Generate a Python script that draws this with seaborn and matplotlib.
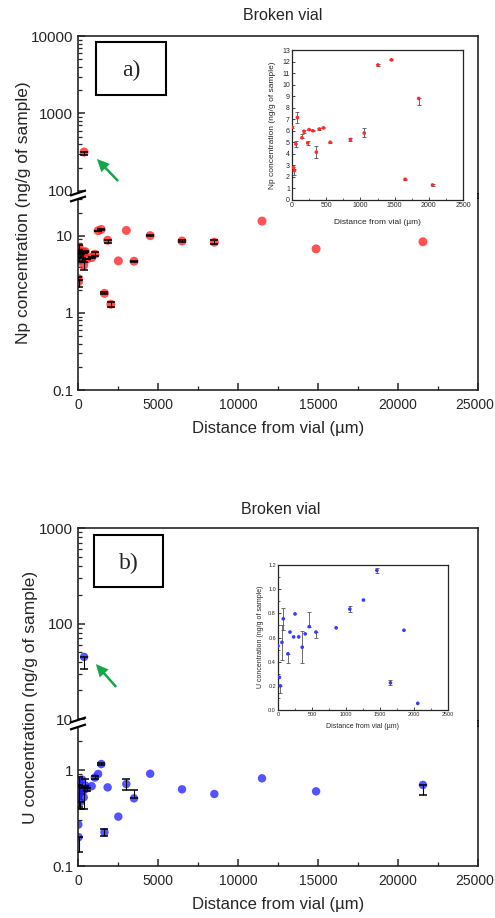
import numpy as np
import pandas as pd
import matplotlib
matplotlib.use("Agg")
import matplotlib.pyplot as plt
import matplotlib.transforms as mtransforms
import seaborn as sns
from matplotlib.lines import Line2D
from matplotlib.patches import Rectangle, FancyArrowPatch
from matplotlib.ticker import FixedLocator, LogLocator, MultipleLocator, FuncFormatter, NullFormatter

# ---------------- data ----------------
# distances (um) of the near-vial samples (shown in both main plots and insets)
distance_near = [0, 20, 35, 58, 78, 146, 176, 230, 250, 305, 356, 400, 460, 558,
                 855, 1056, 1256, 1454, 1654, 1852, 2055]
# distances (um) of the additional samples shown only in the main plots
distance_far = [380, 2520, 3020, 3500, 4510, 6500, 8520, 11500, 14880, 21560]

# Np concentration (ng/g of sample)
np_near = [6.3, 2.8, 2.55, 4.85, 7.15, 5.4, 5.95, 4.95, 6.1, 6.0, 4.15, 6.15, 6.25, 5.0,
           5.25, 5.8, 11.7, 12.15, 1.8, 8.8, 1.3]
np_near_lo = [0.1, 0.1, 0.4, 0.25, 0.5, 0.0, 0.1, 0.15, 0.05, 0.05, 0.55, 0.05, 0.05, 0.05,
              0.1, 0.3, 0.05, 0.05, 0.05, 0.6, 0.1]
np_near_hi = [0.1, 0.1, 0.1, 0.25, 0.5, 0.3, 0.1, 0.15, 0.05, 0.05, 0.5, 0.05, 0.05, 0.05,
              0.1, 0.4, 0.05, 0.05, 0.05, 0.0, 0.1]
np_far = [318, 4.75, 11.8, 4.7, 10.1, 8.6, 8.3, 15.6, 6.8, 8.4]
np_far_lo = [30, 0, 0, 0.1, 0.15, 0.15, 0.5, 0, 0, 0]
np_far_hi = [0, 0, 0, 0.1, 0.15, 0.15, 0.5, 0, 0, 0]

# U concentration (ng/g of sample)
u_near = [0.53, 0.27, 0.20, 0.56, 0.755, 0.465, 0.645, 0.605, 0.795, 0.605, 0.52, 0.63, 0.69, 0.645,
          0.68, 0.835, 0.91, 1.155, 0.225, 0.66, 0.055]
u_near_lo = [0, 0, 0.06, 0.15, 0.09, 0.075, 0, 0, 0, 0, 0.13, 0, 0, 0.045,
             0, 0.02, 0, 0.02, 0.02, 0, 0]
u_near_hi = [0, 0, 0, 0.14, 0.09, 0, 0, 0, 0, 0, 0.13, 0, 0.12, 0,
             0, 0.025, 0, 0.02, 0.02, 0, 0]
u_far = [44.8, 0.327, 0.715, 0.507, 0.915, 0.63, 0.563, 0.82, 0.60, 0.70]
u_far_lo = [11, 0, 0.1, 0.0, 0, 0, 0, 0, 0, 0.15]
u_far_hi = [0, 0, 0.1, 0.12, 0, 0, 0, 0, 0, 0]

title_text = "Broken vial"
xlabel_text = "Distance from vial (\u00b5m)"
np_label = "Np concentration (ng/g of sample)"
u_label = "U concentration (ng/g of sample)"
x_main_ticks = [0, 5000, 10000, 15000, 20000, 25000]
x_inset_ticks = [0, 500, 1000, 1500, 2000, 2500]

# ---------------- style ----------------
sns.set_theme(style="ticks")
plt.rcParams['font.family'] = ['Liberation Sans', 'DejaVu Sans']
plt.rcParams['axes.linewidth'] = 1.2

W, H = 495, 918
fig = plt.figure(figsize=(W / 100, H / 100), dpi=100)


def fx(px):
    return px / W


def fy(py):
    return 1 - py / H


def add_axes_px(left, top, right, bottom):
    return fig.add_axes([fx(left), fy(bottom), (right - left) / W, (bottom - top) / H])


def make_df(dn, cn, lon, hin, df_, cf, lof, hif):
    return pd.DataFrame({
        "distance": list(dn) + list(df_),
        "conc": list(cn) + list(cf),
        "lo": list(lon) + list(lof),
        "hi": list(hin) + list(hif),
    })


df_np = make_df(distance_near, np_near, np_near_lo, np_near_hi,
                distance_far, np_far, np_far_lo, np_far_hi)
df_u = make_df(distance_near, u_near, u_near_lo, u_near_hi,
               distance_far, u_far, u_far_lo, u_far_hi)
df_np_in = df_np.iloc[:len(distance_near)]
df_u_in = df_u.iloc[:len(distance_near)]

fmt_g = FuncFormatter(lambda v, p: f"{v:g}")
GREEN = "#14a64b"


def fig_line(p0, p1, lw=1.3):
    fig.add_artist(Line2D([fx(p0[0]), fx(p1[0])], [fy(p0[1]), fy(p1[1])],
                          transform=fig.transFigure, color="black", lw=lw,
                          solid_capstyle="butt"))


def main_panel(top, brk_t, brk_b, bot, ylim_t, ylim_b, yt_t, yt_b, df, color, size):
    ax_t = add_axes_px(78, top, 478, brk_t)
    ax_b = add_axes_px(78, brk_b, 478, bot)
    for ax in (ax_t, ax_b):
        ax.set_yscale("log")
        sns.scatterplot(data=df, x="distance", y="conc", ax=ax, color=color, s=size,
                        alpha=0.75, edgecolor="none", legend=False, zorder=2)
        m = (df["lo"] + df["hi"]) > 0
        ax.errorbar(df["distance"][m], df["conc"][m],
                    yerr=[df["lo"][m], df["hi"][m]], fmt="none", ecolor="black",
                    elinewidth=0.8, capsize=2.9, capthick=1.1, zorder=3)
        ax.set_xlim(0, 25000)
        ax.set_xlabel("")
        ax.set_ylabel("")
        ax.yaxis.set_minor_locator(LogLocator(base=10, subs=np.arange(2, 10), numticks=20))
        ax.yaxis.set_minor_formatter(NullFormatter())
        ax.yaxis.set_major_formatter(fmt_g)
        ax.tick_params(axis="y", which="major", direction="in", length=5, width=1.1,
                       labelsize=11, pad=3.5)
        ax.tick_params(axis="y", which="minor", direction="in", length=3, width=0.9)
        ax.tick_params(axis="x", which="major", direction="in", length=5, width=1.1,
                       labelsize=10, pad=6)
        ax.tick_params(axis="x", which="minor", direction="in", length=3, width=0.9)
        ax.tick_params(top=False, right=False, which="both")
        for s in ax.spines.values():
            s.set_linewidth(1.2)
    ax_t.set_ylim(*ylim_t)
    ax_b.set_ylim(*ylim_b)
    ax_t.yaxis.set_major_locator(FixedLocator(yt_t))
    ax_b.yaxis.set_major_locator(FixedLocator(yt_b))
    ax_t.spines["bottom"].set_visible(False)
    ax_t.tick_params(axis="x", which="both", bottom=False, labelbottom=False)
    ax_b.spines["top"].set_visible(False)
    ax_b.xaxis.set_major_locator(FixedLocator(x_main_ticks))
    ax_b.xaxis.set_minor_locator(MultipleLocator(2500))
    ax_b.xaxis.set_major_formatter(FuncFormatter(lambda v, p: f"{int(v)}"))
    # nudge the last x tick label so it stays inside the figure, as in the reference
    fig.canvas.draw()
    last = ax_b.get_xticklabels()[-1]
    last.set_transform(last.get_transform() +
                       mtransforms.ScaledTranslation(-3.5 / 100, 0, fig.dpi_scale_trans))
    # continuous right spine across the gap
    fig_line((478, brk_t), (478, brk_b), lw=1.2)
    # break marks on left spine
    for yc in (brk_t, brk_b):
        fig_line((70, yc + 2.6), (86, yc - 2.6), lw=1.6)
    return ax_t, ax_b


def inset(left, top, right, bottom, df, color, ylim, ymaj, ymin, yfmt, tick_fs):
    ax = add_axes_px(left, top, right, bottom)
    m = (df["lo"] + df["hi"]) > 0
    ax.errorbar(df["distance"][m], df["conc"][m], yerr=[df["lo"][m], df["hi"][m]],
                fmt="none", ecolor="#555555", elinewidth=0.6, capsize=1.3,
                capthick=0.6, zorder=2)
    sns.scatterplot(data=df, x="distance", y="conc", ax=ax, color=color, s=7,
                    edgecolor="none", legend=False, zorder=3)
    ax.set_xlim(0, 2500)
    ax.set_ylim(*ylim)
    ax.set_xlabel("")
    ax.set_ylabel("")
    ax.xaxis.set_major_locator(FixedLocator(x_inset_ticks))
    ax.xaxis.set_minor_locator(MultipleLocator(250))
    ax.xaxis.set_major_formatter(FuncFormatter(lambda v, p: f"{int(v)}"))
    ax.yaxis.set_major_locator(MultipleLocator(ymaj))
    if ymin:
        ax.yaxis.set_minor_locator(MultipleLocator(ymin))
    ax.yaxis.set_major_formatter(FuncFormatter(yfmt))
    ax.tick_params(which="major", direction="in", length=2.2, width=0.6,
                   labelsize=tick_fs, pad=1.5, top=False, right=False)
    ax.tick_params(which="minor", direction="in", length=1.3, width=0.5,
                   top=False, right=False)
    for s in ax.spines.values():
        s.set_linewidth(0.9)
    return ax


def label_box(x0, y0, x1, y1, txt, tx, ty):
    fig.add_artist(Rectangle((fx(x0), fy(y1)), (x1 - x0) / W, (y1 - y0) / H,
                             transform=fig.transFigure, fill=True, facecolor="white",
                             edgecolor="black", lw=1.5, zorder=5))
    fig.text(fx(tx), fy(ty), txt, ha="center", va="center", fontsize=17,
             family=["Liberation Serif", "DejaVu Serif"], zorder=6)


def arrow(tail, head):
    fig.add_artist(FancyArrowPatch((fx(tail[0]), fy(tail[1])), (fx(head[0]), fy(head[1])),
                                   transform=fig.transFigure,
                                   arrowstyle="simple,head_length=9,head_width=8.5,tail_width=1.8",
                                   color=GREEN, lw=0, zorder=6))


# ---------------- panel a (Np) ----------------
main_panel(36, 193, 199, 390, (94.2, 10000), (0.1, 30.2), [100, 1000, 10000], [0.1, 1, 10],
           df_np, "#ff1a1a", 42)
fig.text(fx(283), fy(16), title_text, ha="center", va="center", fontsize=11.5)
fig.text(fx(278), fy(429), xlabel_text, ha="center", va="center", fontsize=12)
fig.text(fx(24), fy(213), np_label, ha="center", va="center", rotation=90, fontsize=12.5)
label_box(96, 42, 166, 95, "a)", 131, 70)
arrow((120, 183), (95, 157))
inset(292, 50, 463, 200, df_np_in, "#ff2a2a", (0, 13), 1, None,
      lambda v, p: f"{int(round(v))}", 5)
fig.text(fx(377), fy(223), xlabel_text, ha="center", va="center", fontsize=6)
fig.text(fx(273), fy(125), np_label, ha="center", va="center", rotation=90, fontsize=6)

# ---------------- panel b (U) ----------------
main_panel(528, 720, 727, 866, (9.8, 1000), (0.1, 2.81), [10, 100, 1000], [0.1, 1],
           df_u, "#1a1aff", 37)
fig.text(fx(281), fy(509), title_text, ha="center", va="center", fontsize=11.5)
fig.text(fx(278), fy(905), xlabel_text, ha="center", va="center", fontsize=12)
fig.text(fx(31), fy(697), u_label, ha="center", va="center", rotation=90, fontsize=12.5)
label_box(94, 535, 163, 587, "b)", 129, 563)
arrow((118, 689), (94, 662))
inset(278, 565, 448, 710, df_u_in, "#3a3aff", (0, 1.2), 0.2, 0.1,
      lambda v, p: f"{v:.1f}", 4)
fig.text(fx(363), fy(727), xlabel_text, ha="center", va="center", fontsize=5)
fig.text(fx(261), fy(637), u_label, ha="center", va="center", rotation=90, fontsize=5)

fig.savefig("out.png", dpi=100)
